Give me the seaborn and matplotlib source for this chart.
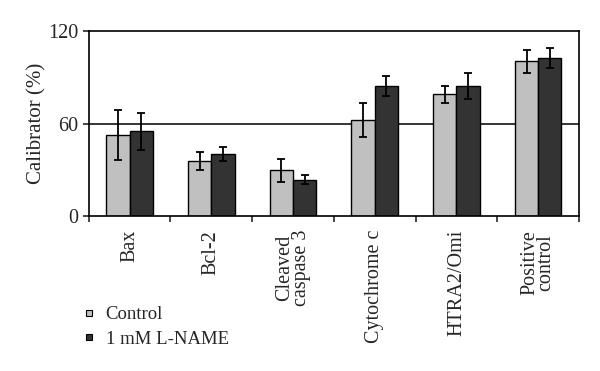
import numpy as np
import pandas as pd
import matplotlib
matplotlib.use("Agg")
import matplotlib.pyplot as plt
from matplotlib.lines import Line2D
import seaborn as sns

# --- Data ---
categories = ["Bax", "Bcl-2", "Cleaved\ncaspase 3", "Cytochrome c", "HTRA2/Omi", "Positive\ncontrol"]
groups = ["Control", "1 mM L-NAME"]
control_mean = [52.5, 35.7, 29.6, 62.1, 78.9, 100.5]
control_err = [16.0, 6.0, 7.5, 11.0, 5.3, 7.5]
lname_mean = [54.9, 40.4, 23.5, 84.3, 84.3, 102.5]
lname_err = [12.0, 4.5, 3.0, 6.5, 8.5, 6.5]
colors = ["#c0c0c0", "#333333"]

df = pd.DataFrame({
    "category": categories * 2,
    "group": [groups[0]] * len(categories) + [groups[1]] * len(categories),
    "value": control_mean + lname_mean,
    "err": control_err + lname_err,
})

sns.set_style("white")
plt.rcParams["font.family"] = ["Liberation Serif", "DejaVu Serif"]

fig = plt.figure(figsize=(6, 3.71), dpi=100)
ax = fig.add_axes([0.148, 0.418, 0.817, 0.498])

sns.barplot(data=df, x="category", y="value", hue="group", order=categories,
            hue_order=groups, palette=colors, errorbar=None, width=0.57,
            edgecolor="black", linewidth=1.0, legend=False, ax=ax)

# error bars at the centres of the drawn bars
for patches, (_, sub) in zip(ax.containers, df.groupby("group", sort=False)):
    xs = [p.get_x() + p.get_width() / 2 for p in patches]
    ys = [p.get_height() for p in patches]
    ax.errorbar(xs, ys, yerr=sub["err"].values, fmt="none", ecolor="black",
                elinewidth=1.3, capsize=3, capthick=1.3)

ax.set_ylim(0, 120)
ax.set_xlim(-0.5, len(categories) - 0.5)
ax.set_yticks([0, 60, 120])
ax.set_ylabel("Calibrator (%)", fontsize=15, labelpad=1)
ax.set_xlabel("")
ax.axhline(60, color="black", lw=1.1, zorder=0)

ax.set_xticks(range(len(categories)))
ax.set_xticklabels(categories, rotation=90, fontsize=14.5, linespacing=0.8)
ax.set_xticks(np.arange(-0.5, len(categories), 1), minor=True)
ax.tick_params(axis="x", which="major", length=0, pad=10)
ax.tick_params(axis="x", which="minor", length=4, width=1.2, direction="out", bottom=True)
ax.tick_params(axis="y", length=4, width=1.2, direction="out", left=True, labelsize=14.5)

for s in ax.spines.values():
    s.set_visible(True)
    s.set_color("black")
    s.set_linewidth(1.2)

handles = [Line2D([], [], marker="s", linestyle="none", markersize=5,
                  markerfacecolor=c, markeredgecolor="black", markeredgewidth=0.8)
           for c in colors]
fig.legend(handles, groups, loc="upper left", bbox_to_anchor=(0.12, 0.195),
           frameon=False, fontsize=13.5, handletextpad=0.4, labelspacing=0.4,
           handlelength=1.0, borderaxespad=0)

fig.savefig("out.png", dpi=100)
